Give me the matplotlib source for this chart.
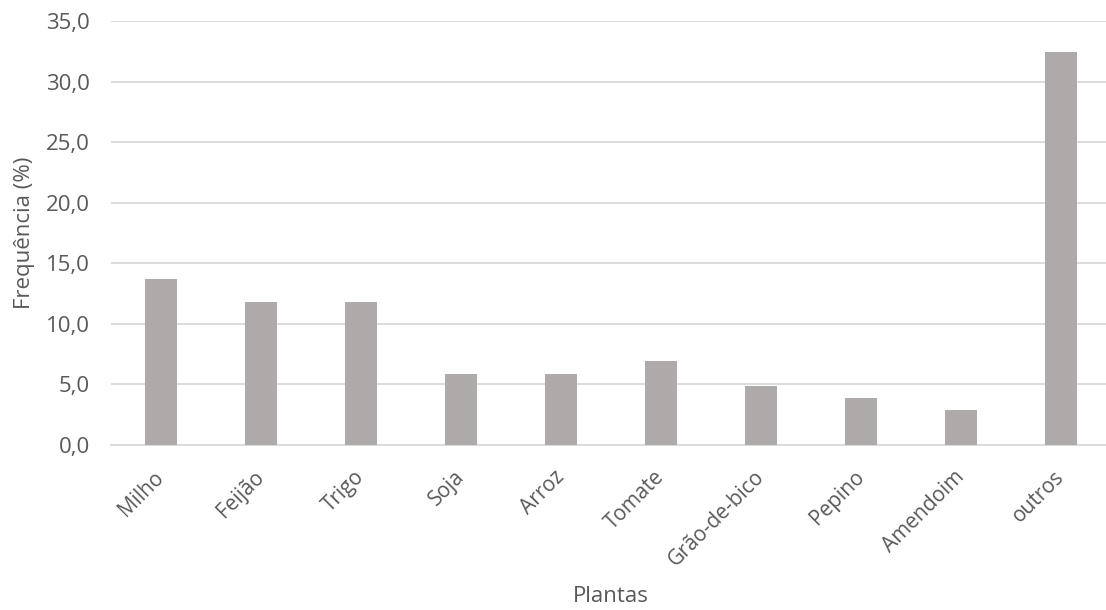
import numpy as np
import matplotlib.pyplot as plt
from matplotlib.ticker import FuncFormatter

plantas = ['Milho', 'Feijão', 'Trigo', 'Soja', 'Arroz', 'Tomate',
           'Grão-de-bico', 'Pepino', 'Amendoim', 'outros']
freq = [13.7, 11.8, 11.8, 5.9, 5.9, 6.9, 4.9, 3.9, 2.9, 32.4]

plt.rcParams['font.family'] = ['Open Sans', 'DejaVu Sans']

fig = plt.figure(figsize=(11.06, 6.10), dpi=100)
ax = fig.add_axes([111/1106, 1 - 445/610, 1000/1106, 424/610])

x = np.arange(len(plantas))
ax.bar(x, freq, width=0.32, color='#ADAAA9', zorder=3)

ax.set_xlim(-0.5, len(plantas) - 0.5)
ax.set_ylim(0, 35)
ax.set_yticks(np.arange(0, 36, 5))
ax.yaxis.set_major_formatter(FuncFormatter(lambda v, p: f'{v:.1f}'.replace('.', ',')))
ax.grid(axis='y', color='#D9D9D9', linewidth=1.3, zorder=0)

for s in ['top', 'right', 'left']:
    ax.spines[s].set_visible(False)
ax.spines['bottom'].set_color('#D9D9D9')
ax.spines['bottom'].set_linewidth(1.3)

ax.set_xticks(x)
ax.set_xticklabels(plantas, rotation=45, ha='right', va='center',
                   rotation_mode='anchor')
ax.tick_params(axis='both', length=0, labelsize=16, labelcolor='#595959')
ax.tick_params(axis='x', pad=21, labelsize=15)
ax.tick_params(axis='y', pad=15)

ax.set_xlabel('Plantas', fontsize=16, color='#595959')
ax.set_ylabel('Frequência (%)', fontsize=16, color='#595959')
ax.xaxis.set_label_coords(0.5, -(596 - 445) / 424)
ax.yaxis.set_label_coords(-(111 - 25) / 1000, 0.5)
ax.xaxis.label.set_va('center')
ax.yaxis.label.set_va('center')

fig.savefig('out.png', dpi=100)
